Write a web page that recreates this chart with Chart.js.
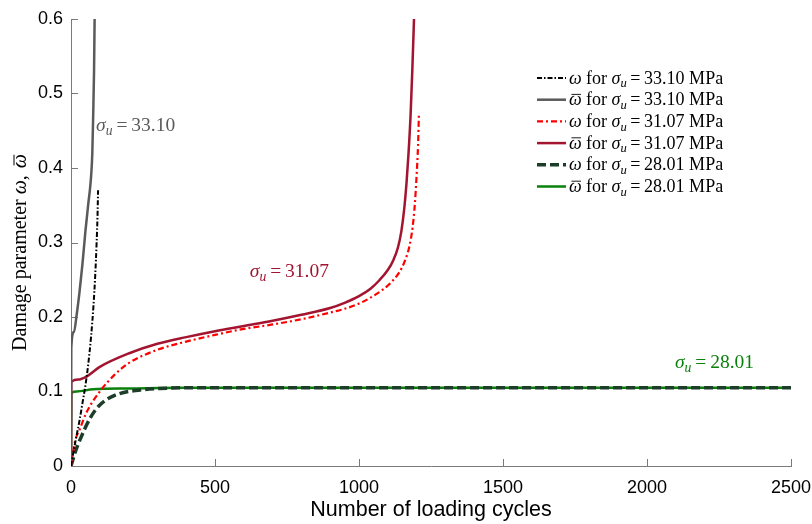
<!DOCTYPE html>
<html lang="en">
<head>
  <meta charset="utf-8" />
  <title>Damage parameter vs loading cycles</title>
  <script src="https://cdn.jsdelivr.net/npm/chart.js"></script>
  <style>
    body { margin: 0; background: #fff; }
  </style>
</head>
<body>
  <canvas id="damageChart" width="812" height="524"></canvas>

  <script>
    // axis ticks
    const xTicks = [0, 500, 1000, 1500, 2000, 2500];
    const yTicks = [0, 0.1, 0.2, 0.3, 0.4, 0.5, 0.6];

    // sigma_u = 33.10 MPa
    const cycW3310 = [0, 10, 20, 30, 40, 50, 60, 70, 78, 84, 89, 92, 94];
    const dmgW3310 = [0, 0.022, 0.042, 0.062, 0.085, 0.108, 0.137, 0.175, 0.215, 0.255, 0.3, 0.335, 0.37];
    const cycWb3310 = [0, 1, 10, 20, 30, 40, 50, 60, 66, 70, 74, 77, 80, 82];
    const dmgWb3310 = [0, 0.158, 0.18, 0.204, 0.235, 0.272, 0.315, 0.352, 0.372, 0.39, 0.42, 0.47, 0.53, 0.6];

    // sigma_u = 31.07 MPa
    const cycW3107 = [0, 14, 31, 54, 100, 150, 200, 300, 400, 500, 600, 700, 800, 900, 950, 1000, 1040, 1080, 1110, 1140, 1160, 1175, 1186, 1194, 1200, 1205, 1208];
    const dmgW3107 = [0, 0.033, 0.05, 0.072, 0.1, 0.122, 0.138, 0.156, 0.167, 0.176, 0.184, 0.19, 0.197, 0.206, 0.211, 0.218, 0.226, 0.236, 0.246, 0.26, 0.276, 0.295, 0.32, 0.352, 0.39, 0.43, 0.472];
    const cycWb3107 = [0, 1, 25, 54, 100, 200, 300, 400, 500, 600, 700, 800, 900, 950, 1000, 1040, 1070, 1100, 1120, 1135, 1147, 1157, 1165, 1172, 1179, 1185, 1191];
    const dmgWb3107 = [0, 0.113, 0.116, 0.12, 0.133, 0.151, 0.164, 0.173, 0.181, 0.188, 0.195, 0.203, 0.212, 0.219, 0.228, 0.238, 0.249, 0.263, 0.277, 0.293, 0.315, 0.345, 0.38, 0.42, 0.47, 0.53, 0.6];

    // sigma_u = 28.01 MPa
    const cycW2801 = [0, 14, 31, 66, 100, 160, 240, 309, 420, 600, 2500];
    const dmgW2801 = [0, 0.018, 0.035, 0.064, 0.082, 0.096, 0.102, 0.104, 0.105, 0.105, 0.105];
    const cycWb2801 = [0, 1, 20, 77, 200, 400, 2500];
    const dmgWb2801 = [0, 0.098, 0.1, 0.103, 0.104, 0.105, 0.105];

    const stressLevels = ['33.10', '33.10', '31.07', '31.07', '28.01', '28.01'];
    const barred = [false, true, false, true, false, true];

    // curve labels: stress, placed at (cycles, damage)
    const noteStress = ['33.10', '31.07', '28.01'];
    const noteCycles = [87, 621, 2097];
    const noteDamage = [0.458, 0.262, 0.139];
    const noteColors = ['#5a5a5a', '#a2142f', '#0a800a'];

    const toXY = (xs, ys) => xs.map((x, i) => ({ x: x, y: ys[i] }));

    const SERIF = '"Liberation Serif", "Times New Roman", serif';
    const SANS = '"Liberation Sans", Arial, sans-serif';
    const AXIS_GREY = '#7a7a7a';

    // little math typesetter: runs of text, italic, subscript, overbar
    function richWidth(ctx, parts, size) {
      let w = 0;
      for (const p of parts) {
        const fs = p.sub ? size * 0.7 : size;
        ctx.font = (p.it ? 'italic ' : '') + fs + 'px ' + SERIF;
        w += ctx.measureText(p.t).width + ((p.gap || 0) + (p.pre || 0)) * size;
      }
      return w;
    }

    function drawRich(ctx, x, y, parts, size, color) {
      ctx.fillStyle = color;
      ctx.strokeStyle = color;
      ctx.textBaseline = 'alphabetic';
      ctx.textAlign = 'left';
      for (const p of parts) {
        const fs = p.sub ? size * 0.7 : size;
        ctx.font = (p.it ? 'italic ' : '') + fs + 'px ' + SERIF;
        const dy = p.sub ? size * 0.2 : 0;
        x += (p.pre || 0) * size;
        ctx.fillText(p.t, x, y + dy);
        const w = ctx.measureText(p.t).width;
        if (p.bar) {
          ctx.lineWidth = size * 0.05;
          ctx.beginPath();
          ctx.moveTo(x + w * 0.2, y - size * 0.6);
          ctx.lineTo(x + w * 0.95, y - size * 0.6);
          ctx.stroke();
        }
        x += w + (p.gap || 0) * size;
      }
      return x;
    }

    const sigmaParts = (val) => [
      { t: '\u03c3', it: true },
      { t: 'u', it: true, sub: true, gap: 0.2 },
      { t: '=', gap: 0.2 },
      { t: val }
    ];

    const mathPlugin = {
      id: 'mathText',
      beforeDatasetsDraw(chart) {
        // inward ticks on the two axes
        const ctx = chart.ctx;
        const xs = chart.scales.x, ys = chart.scales.y;
        const area = chart.chartArea;
        ctx.save();
        ctx.strokeStyle = AXIS_GREY;
        ctx.lineWidth = 1;
        ctx.beginPath();
        xTicks.forEach(v => {
          const px = Math.round(xs.getPixelForValue(v)) + 0.5;
          ctx.moveTo(px, area.bottom);
          ctx.lineTo(px, area.bottom - 7);
        });
        yTicks.forEach(v => {
          const py = Math.round(ys.getPixelForValue(v)) + 0.5;
          ctx.moveTo(area.left, py);
          ctx.lineTo(area.left + 7, py);
        });
        ctx.stroke();
        ctx.restore();
      },
      afterDraw(chart) {
        const ctx = chart.ctx;
        const xs = chart.scales.x, ys = chart.scales.y;
        const area = chart.chartArea;
        ctx.save();

        // y axis title
        const title = [
          { t: 'Damage parameter ' },
          { t: '\u03c9', it: true },
          { t: ', ', gap: 0.1 },
          { t: '\u03c9', it: true, bar: true }
        ];
        const tsize = 20;
        const tw = richWidth(ctx, title, tsize);
        ctx.save();
        ctx.translate(26, (area.top + area.bottom) / 2 + 10);
        ctx.rotate(-Math.PI / 2);
        drawRich(ctx, -tw / 2, 0, title, tsize, '#000');
        ctx.restore();

        // curve labels
        noteStress.forEach((s, i) => {
          const px = xs.getPixelForValue(noteCycles[i]);
          const py = ys.getPixelForValue(noteDamage[i]);
          drawRich(ctx, px, py + 6, sigmaParts(s), 19.5, noteColors[i]);
        });

        // legend
        chart.data.datasets.forEach((ds, i) => {
          const rowY = 78 + i * 21.7;
          ctx.save();
          ctx.strokeStyle = ds.borderColor;
          ctx.lineWidth = ds.borderWidth;
          ctx.setLineDash(ds.borderDash || []);
          ctx.beginPath();
          ctx.moveTo(537, rowY);
          ctx.lineTo(566, rowY);
          ctx.stroke();
          ctx.restore();
          const parts = [
            { t: '\u03c9', it: true, bar: barred[i], pre: 0.05 },
            { t: ' for ' },
            ...sigmaParts(stressLevels[i]),
            { t: ' MPa' }
          ];
          drawRich(ctx, 568, rowY + 5.5, parts, 18, '#000');
        });
        ctx.restore();
      }
    };

    const lineDefaults = {
      fill: false,
      pointRadius: 0,
      cubicInterpolationMode: 'monotone'
    };

    const data = {
      datasets: [
        {
          ...lineDefaults,
          label: 'ω for σu=33.10 MPa',
          data: toXY(cycW3310, dmgW3310),
          borderColor: '#000000',
          borderWidth: 2,
          borderDash: [5, 2, 1.5, 2]
        },
        {
          ...lineDefaults,
          label: 'ω̄ for σu=33.10 MPa',
          data: toXY(cycWb3310, dmgWb3310),
          borderColor: '#5a5a5a',
          borderWidth: 2.5
        },
        {
          ...lineDefaults,
          label: 'ω for σu=31.07 MPa',
          data: toXY(cycW3107, dmgW3107),
          borderColor: '#ff0000',
          borderWidth: 2.2,
          borderDash: [6, 3, 2, 3]
        },
        {
          ...lineDefaults,
          label: 'ω̄ for σu=31.07 MPa',
          data: toXY(cycWb3107, dmgWb3107),
          borderColor: '#a2142f',
          borderWidth: 2.5
        },
        {
          ...lineDefaults,
          label: 'ω for σu=28.01 MPa',
          data: toXY(cycW2801, dmgW2801),
          borderColor: '#1c3d28',
          borderWidth: 3.5,
          borderDash: [9, 4]
        },
        {
          ...lineDefaults,
          label: 'ω̄ for σu=28.01 MPa',
          data: toXY(cycWb2801, dmgWb2801),
          borderColor: '#0a800a',
          borderWidth: 2.5
        }
      ]
    };

    const config = {
      type: 'line',
      data: data,
      options: {
        responsive: false,
        animation: false,
        layout: { padding: { left: 0, right: 0, top: 19, bottom: 0 } },
        plugins: {
          legend: { display: false },
          tooltip: { enabled: false }
        },
        scales: {
          x: {
            type: 'linear',
            min: 0,
            max: 2500,
            afterBuildTicks: (s) => { s.ticks = xTicks.map(v => ({ value: v })); },
            afterFit: (s) => {
              s.height = 58;
              s.paddingLeft = 0;
              s.paddingRight = 21;
            },
            grid: { display: false, drawTicks: false },
            border: { display: true, color: AXIS_GREY, width: 1 },
            ticks: {
              color: '#000',
              padding: 11,
              maxRotation: 0,
              font: { family: SANS, size: 18 },
              callback: (v) => String(v)
            },
            title: {
              display: true,
              text: 'Number of loading cycles',
              color: '#000',
              padding: { top: 0, bottom: 1 },
              font: { family: SANS, size: 21.5 }
            }
          },
          y: {
            type: 'linear',
            min: 0,
            max: 0.6,
            afterBuildTicks: (s) => { s.ticks = yTicks.map(v => ({ value: v })); },
            afterFit: (s) => { s.width = 71; },
            grid: { display: false, drawTicks: false },
            border: { display: true, color: AXIS_GREY, width: 1 },
            ticks: {
              color: '#000',
              padding: 8,
              font: { family: SANS, size: 18 },
              callback: (v) => String(v)
            }
          }
        }
      },
      plugins: [mathPlugin]
    };

    const damageChart = new Chart(document.getElementById('damageChart'), config);
  </script>
</body>
</html>
